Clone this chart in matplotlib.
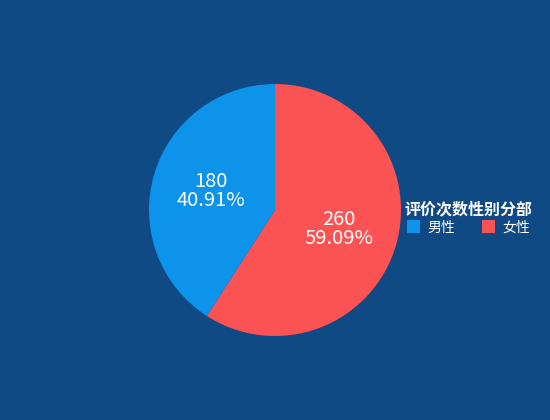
import matplotlib.pyplot as plt
from matplotlib.patches import Patch

plt.rcParams['font.family'] = ['Noto Sans CJK SC', 'DejaVu Sans']

genders = ['男性', '女性']
counts = [180, 260]
colors = {'男性': '#0d93ea', '女性': '#fb5353'}
bg = '#104a85'

total = sum(counts)
# red slice starts at 12 o'clock going clockwise, so draw 女性 first
order = ['女性', '男性']
vals = [counts[genders.index(g)] for g in order]
labels = ['{}\n{:.2f}%'.format(v, v / total * 100) for v in vals]

fig = plt.figure(figsize=(5.5, 4.2), dpi=100, facecolor=bg)
ax = fig.add_axes([0, 0, 1, 1])
ax.set_facecolor(bg)

wedges, texts = ax.pie(vals, colors=[colors[g] for g in order], labels=labels,
                       labeldistance=0.53, startangle=90, counterclock=False,
                       center=(275, 210), radius=126,
                       textprops={'color': 'white', 'fontsize': 14.5, 'linespacing': 0.9},
                       wedgeprops={'linewidth': 0})
for t in texts:
    t.set_ha('center')
    t.set_va('center')

# pie() resets the limits, so fix them afterwards
ax.set_xlim(0, 550)
ax.set_ylim(0, 420)
ax.set_aspect('equal')
ax.axis('off')

handles = [Patch(facecolor=colors[g], edgecolor='none') for g in genders]
leg = ax.legend(handles, genders, title='评价次数性别分部', ncol=2,
                loc='upper left', bbox_to_anchor=(396 / 550, 1 - 193 / 420),
                frameon=False, fontsize=10, handlelength=1.0, handleheight=1.1,
                handletextpad=0.5, columnspacing=1.9, borderpad=0.1,
                labelspacing=0.2)
leg.get_title().set_color('white')
leg.get_title().set_fontweight('bold')
leg.get_title().set_fontsize(11.5)
for t in leg.get_texts():
    t.set_color('white')

fig.savefig('out.png', dpi=100, facecolor=bg)
